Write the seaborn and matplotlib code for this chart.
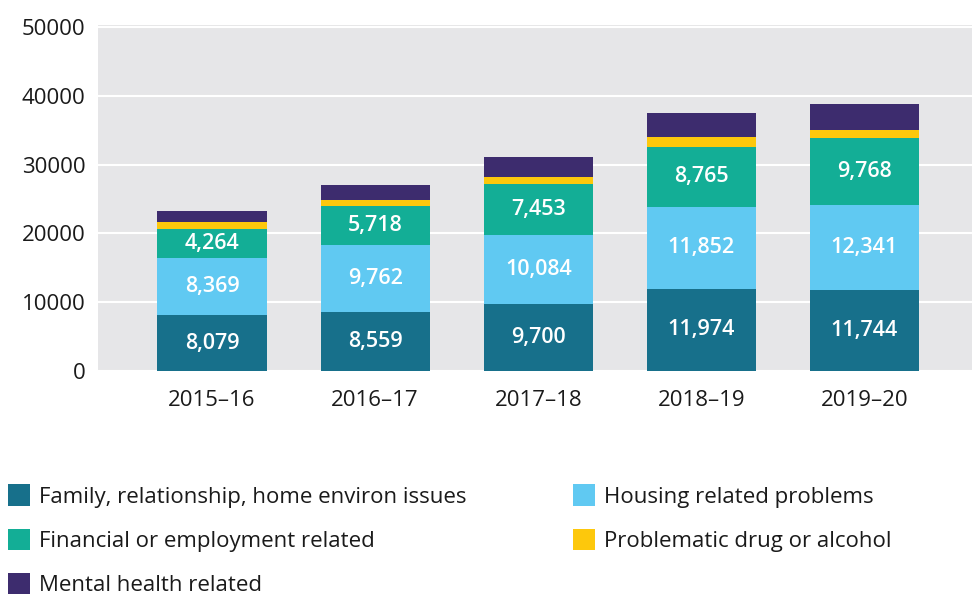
import matplotlib
matplotlib.use("Agg")
import matplotlib.pyplot as plt
from matplotlib.patches import Patch
import numpy as np
import pandas as pd
import seaborn as sns

# Reasons for seeking assistance, by financial year
years = ["2015–16", "2016–17", "2017–18", "2018–19", "2019–20"]
family = [8079, 8559, 9700, 11974, 11744]
housing = [8369, 9762, 10084, 11852, 12341]
financial = [4264, 5718, 7453, 8765, 9768]
drug_alcohol = [960, 780, 970, 1360, 1160]
mental_health = [1600, 2220, 2900, 3530, 3820]

series_names = [
    "Family, relationship, home environ issues",
    "Housing related problems",
    "Financial or employment related",
    "Problematic drug or alcohol",
    "Mental health related",
]
series_values = [family, housing, financial, drug_alcohol, mental_health]
series_colors = ["#17708b", "#60c9f2", "#13ae96", "#fdc80c", "#3d2c6e"]
labelled = [True, True, True, False, False]

sns.set_theme(style="white")
plt.rcParams["font.family"] = ["Open Sans", "DejaVu Sans"]

fig = plt.figure(figsize=(9.72, 5.95), dpi=100)
ax = fig.add_axes([0.1008, 0.3765, 0.8992, 0.5815])
ax.set_facecolor("#e6e6e8")

# cumulative tops of each stacked layer
df = pd.DataFrame({"year": years})
cum = np.zeros(len(years))
tops = []
for vals in series_values:
    cum = cum + np.array(vals)
    tops.append(cum.copy())

# draw from the highest layer down so each lower layer covers the one above
bar_width = 0.67
for name, top, color in reversed(list(zip(series_names, tops, series_colors))):
    df["top"] = top
    sns.barplot(data=df, x="year", y="top", color=color, saturation=1,
                width=bar_width, errorbar=None, ax=ax, zorder=3,
                linewidth=0)

# value labels inside the first three segments
bottom = np.zeros(len(years))
for vals, show in zip(series_values, labelled):
    vals = np.array(vals)
    if show:
        for i, v in enumerate(vals):
            ax.text(i, bottom[i] + v / 2, f"{v:,}", ha="center", va="center",
                    color="white", fontsize=15.5, fontweight="semibold",
                    zorder=5)
    bottom = bottom + vals

ax.set_xlim(-0.70, 4.66)
ax.set_ylim(0, 50300)
ax.set_yticks([0, 10000, 20000, 30000, 40000, 50000])
ax.set_yticklabels(["0", "10000", "20000", "30000", "40000", "50000"])
ax.yaxis.grid(True, color="white", linewidth=1.5, zorder=1)
ax.set_axisbelow(True)
ax.set_xlabel("")
ax.set_ylabel("")
for s in ax.spines.values():
    s.set_visible(False)
ax.tick_params(axis="y", length=0, pad=9, labelsize=16, labelcolor="#1a1a1a")
ax.tick_params(axis="x", length=0, pad=14, labelsize=16, labelcolor="#1a1a1a")

handles = [Patch(facecolor=c, edgecolor="none") for c in series_colors]
leg_kw = dict(frameon=False, fontsize=16, handlelength=1.0, handleheight=1.1,
              handletextpad=0.4, labelspacing=0.95, borderaxespad=0,
              borderpad=0, labelcolor="#1a1a1a")
fig.legend([handles[0], handles[2], handles[4]],
           [series_names[0], series_names[2], series_names[4]],
           loc="upper left", bbox_to_anchor=(0.008, 0.186), **leg_kw)
fig.legend([handles[1], handles[3]],
           [series_names[1], series_names[3]],
           loc="upper left", bbox_to_anchor=(0.589, 0.186), **leg_kw)

fig.savefig("out.png", dpi=100, facecolor="white")
